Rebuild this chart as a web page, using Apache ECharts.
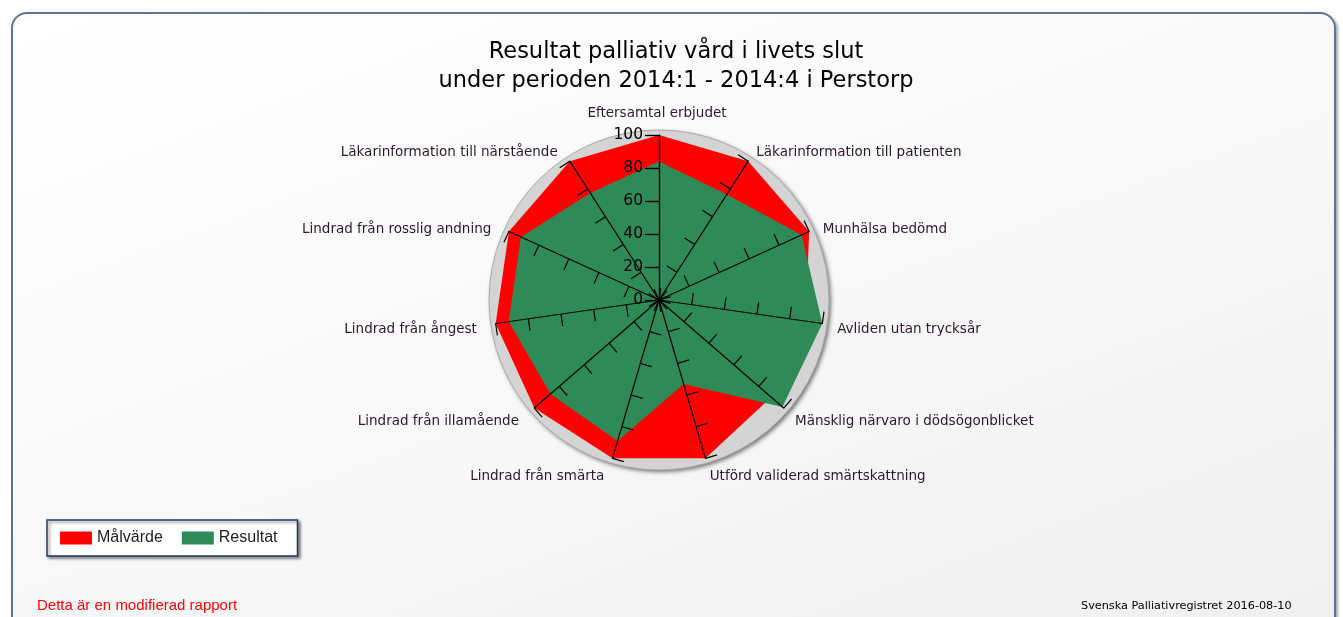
<!DOCTYPE html>
<html>
<head>
<meta charset="utf-8">
<script src="https://cdn.jsdelivr.net/npm/echarts@6/dist/echarts.min.js"></script>
<style>
html,body{margin:0;padding:0;background:#fff;width:1343px;height:617px;overflow:hidden;}
#card{position:absolute;left:11px;top:12px;width:1321px;height:640px;border:2px solid #5a7399;border-radius:16px;
background:linear-gradient(160deg,#ffffff 0%,#f8f8f8 50%,#efefef 100%);box-shadow:2px 2px 3px rgba(0,0,0,0.35);}
#chart{position:absolute;left:0;top:0;width:1343px;height:617px;}
</style>
</head>
<body>
<div id="card"></div>
<div id="chart"></div>
<script>
const titleLines = ['Resultat palliativ vård i livets slut', 'under perioden 2014:1 - 2014:4 i Perstorp'];
// categories in clockwise order, starting at the top
const indicators = [
  'Eftersamtal erbjudet',
  'Läkarinformation till patienten',
  'Munhälsa bedömd',
  'Avliden utan trycksår',
  'Mänsklig närvaro i dödsögonblicket',
  'Utförd validerad smärtskattning',
  'Lindrad från smärta',
  'Lindrad från illamående',
  'Lindrad från ångest',
  'Lindrad från rosslig andning',
  'Läkarinformation till närstående'
];
const seriesNames = ['Målvärde', 'Resultat'];
const targetValues = [100, 100, 100, 90, 90, 100, 100, 100, 100, 100, 100];
const resultValues = [84, 76, 95, 100, 99, 53, 89, 87, 92, 92, 77];
const tickLabels = ['0', '20', '40', '60', '80', '100'];
const footLeft = 'Detta är en modifierad rapport';
const footRight = 'Svenska Palliativregistret 2016-08-10';

// ECharts radar runs counter-clockwise: reorder so the picture runs clockwise
const order = [0].concat(indicators.map((_, i) => i).slice(1).reverse());
const reorder = arr => order.map(i => arr[i]);

const CX = 659, CY = 300, R = 165;
const nameFont = {fontFamily: 'DejaVu Sans', fontSize: 13.5, color: '#2a1a2a'};
const chart = echarts.init(document.getElementById('chart'), null, {renderer: 'canvas'});
chart.setOption({
  backgroundColor: 'transparent',
  animation: false,
  title: [
    {text: titleLines.join('\n'), left: 676, textAlign: 'center', top: 38, padding: 0,
     textStyle: {fontFamily: 'DejaVu Sans', fontSize: 22.5, fontWeight: 'normal', color: '#000', lineHeight: 29}},
    {text: footLeft, left: 37, top: 598, padding: 0,
     textStyle: {fontFamily: 'Liberation Sans', fontSize: 15, fontWeight: 'normal', color: '#ff0000'}},
    {text: footRight, left: 1081, top: 601, padding: 0,
     textStyle: {fontFamily: 'DejaVu Sans', fontSize: 11.25, fontWeight: 'normal', color: '#000'}}
  ],
  legend: {
    data: seriesNames, left: 47, top: 520, orient: 'horizontal',
    itemWidth: 32, itemHeight: 13, itemGap: 19, icon: 'rect',
    textStyle: {fontFamily: 'Liberation Sans', fontSize: 16, color: '#222'},
    backgroundColor: '#fff', borderColor: '#1f3864', borderWidth: 1.5, borderRadius: 0,
    padding: [10, 20, 10, 13],
    shadowBlur: 3, shadowColor: 'rgba(0,0,0,0.45)', shadowOffsetX: 2, shadowOffsetY: 2
  },
  radar: [
    {
      indicator: indicators.map(() => ({name: '', max: 100})),
      center: [CX, CY], radius: R + 5, startAngle: 90, shape: 'circle', splitNumber: 1,
      axisName: {show: false}, axisLine: {show: false}, axisTick: {show: false}, axisLabel: {show: false},
      splitLine: {lineStyle: {color: '#aaa', width: 1}},
      splitArea: {show: true, areaStyle: {color: ['#d4d4d4'], shadowBlur: 4, shadowColor: 'rgba(0,0,0,0.55)', shadowOffsetX: 2, shadowOffsetY: 2}},
      silent: true, z: 0
    },
    {
      indicator: reorder(indicators).map(n => ({name: n, max: 100, min: 0})),
      center: [CX, CY], radius: R, startAngle: 90, shape: 'polygon', splitNumber: 5,
      nameGap: 15,
      axisName: Object.assign({}, nameFont, {
        padding: [0, 4, 0, 0],
        formatter: n => '{a|' + n + '}',
        rich: {a: Object.assign({}, nameFont, {lineHeight: 22, verticalAlign: 'bottom'})}
      }),
      axisLine: {lineStyle: {color: '#000', width: 1.2}},
      axisTick: {show: true, length: 12, lineStyle: {color: '#000', width: 1.2}},
      axisLabel: {show: false},
      splitLine: {show: false},
      splitArea: {show: false},
      z: 5
    }
  ],
  polar: {center: [CX, CY], radius: R},
  angleAxis: {show: false, startAngle: 90, min: 0, max: 360},
  radiusAxis: {
    min: 0, max: 100, interval: 20, z: 10,
    axisLine: {show: true, lineStyle: {color: '#000', width: 1.2}},
    axisTick: {show: true, length: 14, lineStyle: {color: '#000', width: 1.2}},
    splitLine: {show: false},
    axisLabel: {show: true, margin: 16, fontFamily: 'DejaVu Sans', fontSize: 15.5, color: '#000',
      formatter: (v) => tickLabels[Math.round(v / 20)]}
  },
  series: [{
    type: 'radar', radarIndex: 1, symbol: 'none', z: 2,
    data: [
      {name: seriesNames[0], value: reorder(targetValues),
       itemStyle: {color: '#ff0000'}, lineStyle: {width: 0, color: '#ff0000'}, areaStyle: {color: '#ff0000', opacity: 1}},
      {name: seriesNames[1], value: reorder(resultValues),
       itemStyle: {color: '#2e8b57'}, lineStyle: {width: 0, color: '#2e8b57'}, areaStyle: {color: '#2e8b57', opacity: 1}}
    ]
  }]
});
</script>
</body>
</html>
